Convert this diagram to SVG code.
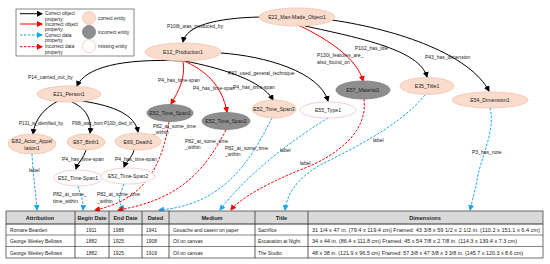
<svg xmlns="http://www.w3.org/2000/svg" width="550" height="264" viewBox="0 0 550 264">
<defs>
<marker id="ak" markerWidth="6" markerHeight="6" refX="5" refY="3" orient="auto" markerUnits="userSpaceOnUse"><path d="M0,0 L6,3 L0,6 z" fill="#000"/></marker>
<marker id="ar" markerWidth="6" markerHeight="6" refX="5" refY="3" orient="auto" markerUnits="userSpaceOnUse"><path d="M0,0 L6,3 L0,6 z" fill="#ff0000"/></marker>
<marker id="ab" markerWidth="6" markerHeight="6" refX="5" refY="3" orient="auto" markerUnits="userSpaceOnUse"><path d="M0,0 L6,3 L0,6 z" fill="#1aa7ec"/></marker>
</defs>
<style>
text{font-family:"Liberation Sans",Arial,sans-serif;fill:#222}
.nl{font-size:5.2px;text-anchor:middle;dominant-baseline:central}
.el{font-size:5px}
.es{font-size:4.5px}
.lg{font-size:4.8px}
.ok{fill:#f9dccb;stroke:#f2c2ad;stroke-width:0.8}
.bad{fill:#8e8e8e;stroke:#7a7a7a;stroke-width:0.8}
.miss{fill:#fff;stroke:#f0c4c4;stroke-width:0.8}
.k{fill:none;stroke:#000;stroke-width:1;marker-end:url(#ak)}
.r{fill:none;stroke:#ff0000;stroke-width:1;marker-end:url(#ar)}
.bd{fill:none;stroke:#1aa7ec;stroke-width:1;stroke-dasharray:2.5,1.5;marker-end:url(#ab)}
.rd{fill:none;stroke:#ff0000;stroke-width:1;stroke-dasharray:2.5,1.5;marker-end:url(#ar)}
.th{font-size:5.6px;font-weight:bold;text-anchor:middle}
.td{font-size:4.9px}
.cell{fill:none;stroke:#333;stroke-width:0.7}
</style>

<g id="legend">
<rect x="16" y="9" width="118" height="47" fill="#fff" stroke="#555" stroke-width="0.7"/>
<line x1="20" y1="13.7" x2="42" y2="13.7" class="k"/>
<text class="lg" x="45" y="15">Correct object</text><text class="lg" x="45" y="20.6">property</text>
<line x1="20" y1="24" x2="42" y2="24" class="r"/>
<text class="lg" x="45" y="25.7">Incorrect object</text><text class="lg" x="45" y="31.2">property</text>
<line x1="20" y1="35" x2="42" y2="35" class="bd"/>
<text class="lg" x="45" y="36.7">Correct data</text><text class="lg" x="45" y="42.3">property</text>
<line x1="20" y1="46.7" x2="42" y2="46.7" class="rd"/>
<text class="lg" x="45" y="48.4">Incorrect data</text><text class="lg" x="45" y="53.8">property</text>
<circle cx="89" cy="18" r="6.5" class="ok"/><text class="lg" x="98" y="19.5">correct entity</text>
<circle cx="89" cy="32" r="6.5" class="bad"/><text class="lg" x="98" y="33.5">incorrect entity</text>
<circle cx="89" cy="46" r="6.5" class="miss"/><text class="lg" x="98" y="47.5">missing entity</text>
</g>

<g id="connectors">
<path class="k" d="M260,17 C215,18 186,26 183,42"/>
<text class="el" x="167" y="27.5">P108i_was_produced_by</text>
<path class="k" d="M183,61 C120,58 85,68 77,86"/>
<text class="el" x="28" y="78.5">P14_carried_out_by</text>
<path class="r" d="M183,61 C186,78 178,92 171,104"/>
<text class="el" x="158" y="81.5">P4_has_time-span</text>
<path class="r" d="M184,61 C205,70 222,85 227,112"/>
<text class="el" x="193" y="90">P4_has_time-span</text>
<path class="k" d="M185,61 C220,68 262,80 273,100"/>
<text class="el" x="233" y="88.5">P4_has_time-span</text>
<path class="k" d="M221,53 C265,56 320,72 328,101"/>
<text class="el" x="228" y="74.5">P32_used_general_technique</text>
<path class="r" d="M298,25 C330,40 358,60 363,81"/>
<text class="el" x="317" y="56.5">P130i_features_are_</text>
<text class="el" x="317" y="63.5">also_found_on</text>
<path class="k" d="M305,26 C360,38 420,50 427,77"/>
<text class="el" x="355" y="49.5">P102_has_title</text>
<path class="k" d="M332,20 C400,30 470,55 489,91"/>
<text class="el" x="425" y="58.5">P43_has_dimension</text>
<path class="k" d="M58,101 C45,108 35,118 33,134"/>
<text class="es" x="19" y="124.5">P131_is_identified_by</text>
<path class="k" d="M72,102 C85,108 92,118 90,133"/>
<text class="es" x="72" y="124.5">P98i_was_born</text>
<path class="k" d="M82,101 C115,106 135,115 138,132"/>
<text class="es" x="104" y="124.5">P100i_died_in</text>
<path class="k" d="M86,150 C84,158 78,162 76,169"/>
<text class="el" x="62" y="160.5">P4_has_time-span</text>
<path class="k" d="M134,150 C132,158 126,162 124,167"/>
<text class="el" x="115" y="160.5">P4_has_time-span</text>

<path class="bd" d="M32,154 C33,175 36,195 37,210"/>
<text class="el" x="29" y="171.5">label</text>
<path class="bd" d="M78,186 C80,195 84,200 83,210"/>
<text class="el" x="53" y="196">P82_at_some_</text><text class="el" x="53" y="202.5">time_within</text>
<path class="bd" d="M124,184 C120,195 116,200 124,210"/>
<text class="el" x="97" y="196">P82_at_some_time</text><text class="el" x="97" y="202.5">_within</text>
<path class="rd" d="M169,122 C162,165 145,200 95,210"/>
<text class="el" x="153" y="127.5">P82_at_some_time</text><text class="el" x="153" y="134">_within</text>
<path class="rd" d="M226,130 C205,170 180,200 118,210"/>
<text class="el" x="185" y="142.5">P82_at_some_time</text><text class="el" x="185" y="149">_within</text>
<path class="bd" d="M272,118 C255,150 230,205 159,210"/>
<text class="el" x="225" y="149.5">P82_at_some_time</text><text class="el" x="225" y="156">_within</text>
<path class="bd" d="M328,118 C300,135 250,170 220,210"/>
<text class="el" x="280" y="151.5">label</text>
<path class="rd" d="M364,99 C368,130 340,155 300,170 C270,182 240,198 231,210"/>
<text class="el" x="300" y="164.5">label</text>
<path class="bd" d="M425,95 C400,125 360,145 320,165 C295,180 287,195 285,210"/>
<text class="el" x="373" y="141.5">label</text>
<path class="bd" d="M490,108 C496,130 480,160 477,180 C474,195 472,202 470,210"/>
<text class="el" x="472" y="153.5">P3_has_note</text>
</g>

<g id="E22"><ellipse cx="297" cy="17" rx="38" ry="9" class="ok"/><text class="nl" x="297" y="17">E22_Man-Made_Object1</text></g>
<g id="E12"><ellipse cx="183" cy="52" rx="38" ry="9" class="ok"/><text class="nl" x="183" y="52">E12_Production1</text></g>
<g id="E21"><ellipse cx="69" cy="94" rx="32" ry="8" class="ok"/><text class="nl" x="69" y="94">E21_Person1</text></g>
<g id="E82"><ellipse cx="32" cy="144" rx="24" ry="10" class="ok"/><text class="nl" x="32" y="141">E82_Actor_Appel</text><text class="nl" x="32" y="147.5">lation1</text></g>
<g id="E67"><ellipse cx="86" cy="142" rx="19" ry="8" class="ok"/><text class="nl" x="86" y="142">E67_Birth1</text></g>
<g id="E69"><ellipse cx="138" cy="141.5" rx="23" ry="8.5" class="ok"/><text class="nl" x="138" y="141.5">E69_Death1</text></g>
<g id="TS1m"><ellipse cx="78" cy="178" rx="24" ry="8" class="miss"/><text class="nl" x="78" y="178">E52_Time-Span1</text></g>
<g id="TS2m"><ellipse cx="128" cy="176" rx="27" ry="8" class="miss"/><text class="nl" x="128" y="176">E52_Time-Span2</text></g>
<g id="TS1g"><ellipse cx="170" cy="113" rx="23" ry="8.5" class="bad"/><text class="nl" x="170" y="113">E52_Time_Span1</text></g>
<g id="TS2g"><ellipse cx="226" cy="121" rx="24" ry="8.5" class="bad"/><text class="nl" x="226" y="121">E52_Time_Span2</text></g>
<g id="TS3"><ellipse cx="274" cy="109" rx="22" ry="9" class="ok"/><text class="nl" x="274" y="109">E52_Time_Span3</text></g>
<g id="E55"><ellipse cx="328" cy="110" rx="28" ry="8" class="miss"/><text class="nl" x="328" y="110">E55_Type1</text></g>
<g id="E57"><ellipse cx="363" cy="90" rx="27" ry="9" class="bad"/><text class="nl" x="363" y="90">E57_Material1</text></g>
<g id="E35"><ellipse cx="427" cy="86" rx="27" ry="8.5" class="ok"/><text class="nl" x="427" y="86">E35_Title1</text></g>
<g id="E54"><ellipse cx="490" cy="100" rx="38" ry="8" class="ok"/><text class="nl" x="490" y="100">E54_Dimension1</text></g>

<g id="table">
<rect x="6" y="211" width="537" height="13" fill="#d9d9d9"/>
<rect x="6" y="211" width="537" height="47" class="cell" stroke-width="1"/>
<line x1="6" y1="224" x2="543" y2="224" stroke="#333" stroke-width="1"/>
<line x1="6" y1="235" x2="543" y2="235" stroke="#333" stroke-width="0.6"/>
<line x1="6" y1="246.5" x2="543" y2="246.5" stroke="#333" stroke-width="0.6"/>
<g stroke="#333" stroke-width="0.8">
<line x1="75" y1="211" x2="75" y2="258"/><line x1="109" y1="211" x2="109" y2="258"/>
<line x1="142" y1="211" x2="142" y2="258"/><line x1="169" y1="211" x2="169" y2="258"/>
<line x1="255" y1="211" x2="255" y2="258"/><line x1="308" y1="211" x2="308" y2="258"/>
</g>
<text class="th" x="40" y="219.5">Attribution</text>
<text class="th" x="92" y="219.5">Begin Date</text>
<text class="th" x="125.5" y="219.5">End Date</text>
<text class="th" x="155.5" y="219.5">Dated</text>
<text class="th" x="212" y="219.5">Medium</text>
<text class="th" x="281.5" y="219.5">Title</text>
<text class="th" x="425" y="219.5">Dimensions</text>
<text class="td" x="10" y="231.5">Romare Bearden</text>
<text class="td" x="86" y="231.5">1911</text><text class="td" x="113" y="231.5">1988</text><text class="td" x="146" y="231.5">1941</text>
<text class="td" x="173" y="231.5">Gouache and casein on paper</text>
<text class="td" x="258" y="231.5">Sacrifice</text>
<text class="td" x="312" y="231.5" textLength="228" lengthAdjust="spacingAndGlyphs">31 1/4 x 47 in. (79.4 x 119.4 cm) Framed: 43 3/8 x 59 1/2 x 2 1/2 in. (110.2 x 151.1 x 6.4 cm)</text>
<text class="td" x="10" y="242.5">George Wesley Bellows</text>
<text class="td" x="86" y="242.5">1882</text><text class="td" x="113" y="242.5">1925</text><text class="td" x="146" y="242.5">1908</text>
<text class="td" x="173" y="242.5">Oil on canvas</text>
<text class="td" x="258" y="242.5">Excavation at Night</text>
<text class="td" x="312" y="242.5" textLength="205" lengthAdjust="spacingAndGlyphs">34 x 44 in. (86.4 x 111.8 cm) Framed: 45 x 54 7/8 x 2 7/8 in. (114.3 x 139.4 x 7.3 cm)</text>
<text class="td" x="10" y="254.5">George Wesley Bellows</text>
<text class="td" x="86" y="254.5">1882</text><text class="td" x="113" y="254.5">1925</text><text class="td" x="146" y="254.5">1919</text>
<text class="td" x="173" y="254.5">Oil on canvas</text>
<text class="td" x="258" y="254.5">The Studio</text>
<text class="td" x="312" y="254.5" textLength="211" lengthAdjust="spacingAndGlyphs">48 x 38 in. (121.9 x 96.5 cm) Framed: 57 3/8 x 47 3/8 x 3 3/8 in. (145.7 x 120.3 x 8.6 cm)</text>
</g>
</svg>
